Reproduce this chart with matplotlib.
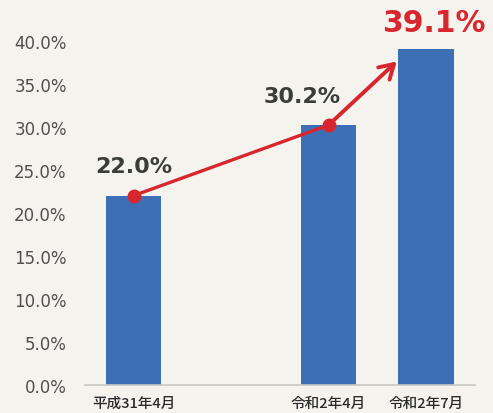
import matplotlib
matplotlib.use("Agg")
import matplotlib.pyplot as plt
from matplotlib.ticker import FuncFormatter

plt.rcParams["font.family"] = ["DejaVu Sans", "Noto Sans CJK JP"]

# data
categories = ["平成31年4月", "", "令和2年4月", "令和2年7月"]
shares     = [22.0, None, 30.2, 39.1]
labels     = ["22.0%", None, "30.2%", "39.1%"]
arrow_tip  = (2.70, 37.6)   # where the red trend arrow ends

BG, BAR, RED, TXT = "#f4f3ed", "#3d6fb6", "#d8262e", "#3a3d3a"

fig = plt.figure(figsize=(4.93, 4.14), dpi=100, facecolor=BG)
ax = fig.add_axes([0.172, 0.068, 0.791, 0.831], facecolor=BG)

xs = [i for i, v in enumerate(shares) if v is not None]
ys = [shares[i] for i in xs]
ax.bar(xs, ys, width=0.57, color=BAR, zorder=2)

# trend line through first two bars, arrow toward the last
ax.plot(xs[:2], ys[:2], color=RED, lw=2.4, marker="o", ms=9, zorder=4)
ax.annotate("", xy=arrow_tip, xytext=(xs[1], ys[1]),
            arrowprops=dict(arrowstyle="->,head_length=1.0,head_width=0.6",
                            color=RED, lw=2.8, shrinkA=0, shrinkB=0),
            zorder=4)

ax.text(xs[0], ys[0] + 2.3, labels[0], ha="center", va="bottom",
        fontsize=16, fontweight="bold", color=TXT)
ax.text(xs[1] - 0.27, ys[1] + 2.2, labels[2], ha="center", va="bottom",
        fontsize=16, fontweight="bold", color=TXT)
ax.text(xs[2] + 0.08, ys[2] + 1.4, labels[3], ha="center", va="bottom",
        fontsize=21.5, fontweight="bold", color=RED, clip_on=False)

ax.set_xlim(-0.5, 3.5)
ax.set_ylim(0, 40)
ax.set_yticks(range(0, 41, 5))
ax.yaxis.set_major_formatter(FuncFormatter(lambda v, _: f"{v:.1f}%"))
ax.set_xticks(range(len(categories)))
ax.set_xticklabels(categories, family=["Noto Sans CJK JP", "DejaVu Sans"],
                   fontsize=10.5, fontweight="medium", color="#2a2a2a")
ax.tick_params(axis="y", length=0, labelsize=12, labelcolor="#505050", pad=13)
ax.tick_params(axis="x", length=0, pad=8)

for s in ("top", "right", "left"):
    ax.spines[s].set_visible(False)
ax.spines["bottom"].set_color("#c8c8c4")
ax.spines["bottom"].set_linewidth(1.2)

fig.savefig("out.png", dpi=100, facecolor=BG)
